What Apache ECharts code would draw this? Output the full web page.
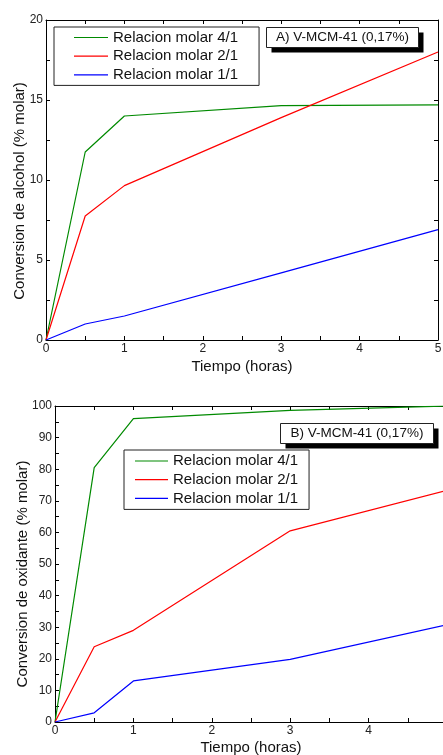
<!DOCTYPE html>
<html>
<head>
<meta charset="utf-8">
<script src="https://cdn.jsdelivr.net/npm/echarts@6/dist/echarts.min.js"></script>
<style>html,body{margin:0;padding:0;background:#fff}#c{width:443px;height:755px}</style>
</head>
<body>
<div id="c"></div>
<script>
const seriesNames = ['Relacion molar 4/1', 'Relacion molar 2/1', 'Relacion molar 1/1'];
const colors = ['#008a00', '#ff0000', '#0000ff'];
const timesA = [0, 0.5, 1, 3, 5];
const alc41 = [0, 11.75, 14.0, 14.65, 14.7];
const alc21 = [0, 7.75, 9.65, 13.9, 18.0];
const alc11 = [0, 1.0, 1.5, 4.2, 6.9];
const timesB = [0, 0.5, 1, 3, 5];
const oxi41 = [0, 80.5, 96.0, 98.6, 100];
const oxi21 = [0, 23.8, 29.0, 60.5, 73.3];
const oxi11 = [0, 2.9, 13.0, 19.8, 30.8];
const titleA = 'A) V-MCM-41 (0,17%)';
const titleB = 'B) V-MCM-41 (0,17%)';
const xNameTxt = 'Tiempo (horas)';
const yNameA = 'Conversion de alcohol (% molar)';
const yNameB = 'Conversion de oxidante (% molar)';

const font = 'Arial, "Liberation Sans", sans-serif';
function pairs(xs, ys){ return xs.map((x,i)=>[x, ys[i]]); }

const tickCommon = {
  axisLine: {show: true, onZero: false, lineStyle: {color: '#000', width: 1}},
  axisTick: {show: true, inside: true, length: 4, lineStyle: {color: '#000'}},
  minorTick: {show: true, splitNumber: 2, length: 4, lineStyle: {color: '#000'}},
  splitLine: {show: false}
};
const labelStyle = {color: '#222', fontSize: 12, fontFamily: font, margin: 3};

function xAxes(grid, gap){
  return [
    Object.assign({type:'value', gridIndex:grid, min:0, max:5, interval:1, position:'bottom',
      name: xNameTxt, nameLocation:'middle', nameGap: gap, nameMoveOverlap:false,
      nameTextStyle:{fontSize:15, fontFamily:font, color:'#111'},
      axisLabel: labelStyle}, tickCommon),
    Object.assign({type:'value', gridIndex:grid, min:0, max:5, interval:1, position:'top',
      axisLabel:{show:false}}, tickCommon)
  ];
}
function yAxes(grid, max, interval, name, gap, shift){
  return [
    Object.assign({type:'value', gridIndex:grid, min:0, max:max, interval:interval, position:'left',
      name: name, nameLocation:'middle', nameGap: gap, nameMoveOverlap:false,
      nameTextStyle:{fontSize:15, fontFamily:font, color:'#111', padding:[0, shift, 0, 0]},
      axisLabel: labelStyle}, tickCommon),
    Object.assign({type:'value', gridIndex:grid, min:0, max:max, interval:interval, position:'right',
      axisLabel:{show:false}}, tickCommon)
  ];
}

function mkSeries(xi, yi, xs, ys, idx){
  return {type:'line', name: seriesNames[idx], xAxisIndex: xi, yAxisIndex: yi,
    data: pairs(xs, ys), symbol:'none', showSymbol:false, silent:true,
    lineStyle:{color: colors[idx], width: 1.2}, itemStyle:{color: colors[idx]}};
}

function legendAt(left, top, pad, w){
  return {show:true, orient:'vertical', left:left, top:top, data: seriesNames,
    icon: 'path://M0,0L' + w + ',0L' + w + ',1.2L0,1.2Z',
    itemWidth: w, itemHeight: 1.2, itemGap: 0.7, padding: pad,
    borderColor:'#222', borderWidth:1, backgroundColor:'#fff',
    selectedMode:false,
    textStyle:{fontSize:15, lineHeight:18, fontFamily:font, color:'#111'}};
}

function annot(x, y, w, h, text){
  return {type:'group', left:x, top:y, children:[
    {type:'rect', shape:{x:5, y:5, width:w, height:h}, style:{fill:'#000'}},
    {type:'rect', shape:{x:0, y:0, width:w, height:h}, style:{fill:'#fff', stroke:'#222', lineWidth:1}},
    {type:'text', x:w/2, y:h/2, style:{text:text, fill:'#111', fontSize:13.5, fontFamily:font, align:'center', verticalAlign:'middle'}}
  ]};
}

const chart = echarts.init(document.getElementById('c'), null, {renderer:'canvas'});
chart.setOption({
  animation:false,
  backgroundColor:'#fff',
  grid:[
    {left:46, top:20, width:392, height:320, containLabel:false, outerBoundsMode:'none'},
    {left:55, top:406, width:392, height:316, containLabel:false, outerBoundsMode:'none'}
  ],
  xAxis: xAxes(0, 19).concat(xAxes(1, 18)),
  yAxis: yAxes(0, 20, 5, yNameA, 19, 22).concat(yAxes(1, 100, 10, yNameB, 25, 20)),
  legend:[ legendAt(54, 27, [1.5, 21, 1.5, 20], 34), legendAt(124, 450, [2, 11, 2, 11], 33) ],
  series:[
    mkSeries(0, 0, timesA, alc41, 0),
    mkSeries(0, 0, timesA, alc21, 1),
    mkSeries(0, 0, timesA, alc11, 2),
    mkSeries(2, 2, timesB, oxi41, 0),
    mkSeries(2, 2, timesB, oxi21, 1),
    mkSeries(2, 2, timesB, oxi11, 2)
  ],
  graphic:[ annot(266, 27, 152, 20, titleA), annot(280, 423, 153, 20, titleB) ]
});
</script>
</body>
</html>
